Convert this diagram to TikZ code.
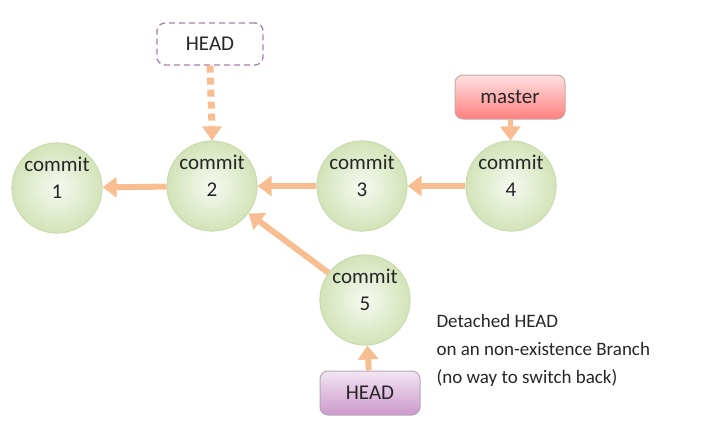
\documentclass[tikz,border=0pt]{standalone}
\usepackage{fontspec}
\setmainfont{Carlito}
\usetikzlibrary{arrows.meta,shapes.geometric}
\definecolor{arr}{HTML}{F8BE92}
\definecolor{cfill}{HTML}{D3E3B8}
\definecolor{cline}{HTML}{C9DCAE}
\begin{document}
\begin{tikzpicture}[x=1pt,y=-1pt,
  commit/.style={circle,minimum size=80pt,inner sep=0pt,draw=cline,line width=1pt,
    inner color=white!80!cfill,outer color=cfill,font=\fontsize{21}{27}\selectfont,align=center,text=black!85},
  con/.style={draw=arr,line width=6pt,-{Triangle[length=14pt,width=20pt]}},
  box/.style={rounded corners=8pt,minimum width=106pt,minimum height=42pt,font=\fontsize{21}{24}\selectfont,text=black!85}]
\useasboundingbox (0,0) rectangle (720,434);
\node[commit] (c1) at (57,188) {commit\\1\\[-6pt]};
\node[commit] (c2) at (212,186) {commit\\2\\[-6pt]};
\node[commit] (c3) at (362,186) {commit\\3\\[-6pt]};
\node[commit] (c4) at (511,186) {commit\\4\\[-6pt]};
\node[commit] (c5) at (365,300) {commit\\5\\[-6pt]};
\node[box,draw=violet!40!gray!70,dashed,line width=1.3pt,dash pattern=on 6pt off 4pt,fill=white] (h1) at (210,44) {HEAD};
\node[box,draw=red!40!black!35,line width=1pt,top color=red!12,bottom color=red!50!white,minimum width=110pt,minimum height=44pt] (m) at (510,97) {master};
\node[box,draw=violet!40!black!35,line width=1pt,top color=violet!10,bottom color=violet!40!white,minimum width=100pt,minimum height=44pt] (h2) at (370,393) {HEAD};
\coordinate (tip) at (c2.north);
\coordinate (base) at ([yshift=14pt]c2.north);
\draw[con] (c2) -- (c1);
\draw[con] (c3) -- (c2);
\draw[con] (c4) -- (c3);
\draw[con] (c5) -- (c2);
\draw[con,line width=5pt] (m) -- (c4);
\draw[con] (h2) -- (c5);
\draw[draw=arr,line width=7pt,dash pattern=on 7pt off 5pt] (h1.south) -- (base);
\fill[arr] ([xshift=-10pt]base) -- ([xshift=10pt]base) -- (tip) -- cycle;
\node[anchor=north west,align=left,font=\fontsize{19}{28}\selectfont,text=black!85] (t) at (433,311) {Detached HEAD\\on an non-existence Branch\\(no way to switch back)};
\end{tikzpicture}
\end{document}
